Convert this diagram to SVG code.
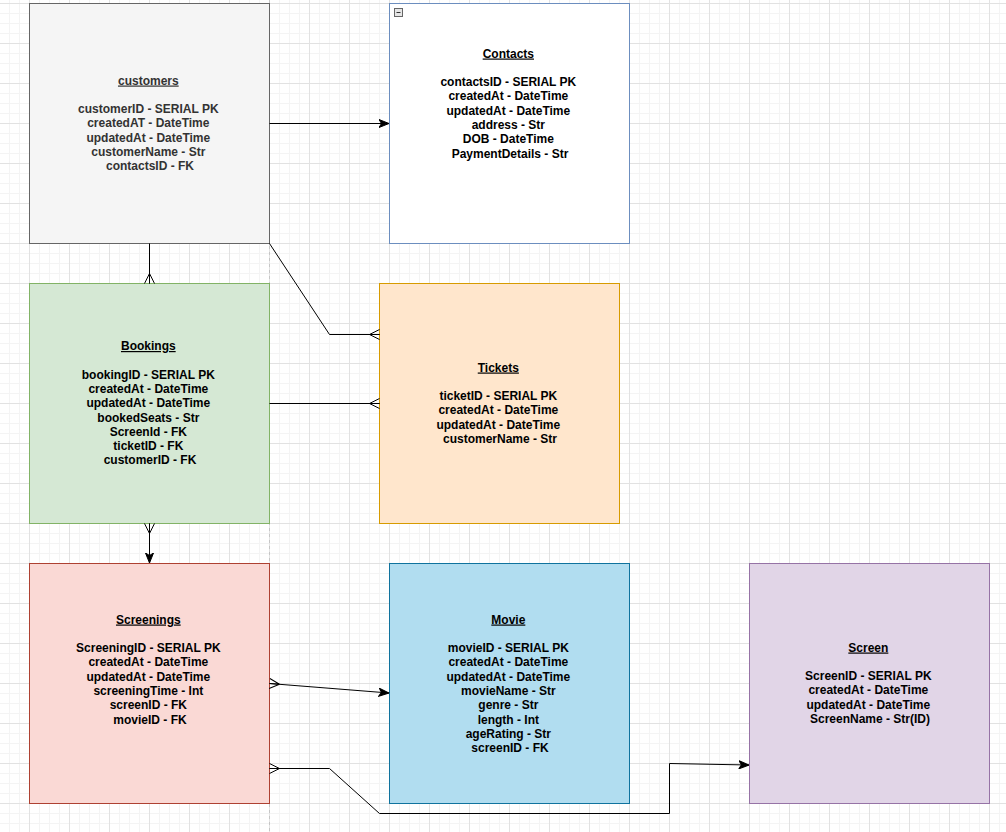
<svg xmlns="http://www.w3.org/2000/svg" width="1006" height="832" viewBox="0 0 1006 832">
  <defs>
    <!-- background grid: 10px minor, 40px major -->
    <pattern id="grid" patternUnits="userSpaceOnUse" x="29" y="3" width="40" height="40">
      <path d="M10.5,0 V40 M20.5,0 V40 M30.5,0 V40 M0,10.5 H40 M0,20.5 H40 M0,30.5 H40" stroke="#f4f4f4" stroke-width="1" fill="none"/>
      <path d="M0.5,0 V40 M0,0.5 H40" stroke="#e2e2e2" stroke-width="1" fill="none"/>
    </pattern>
    <!-- filled classic arrowhead -->
    <marker id="arrow" markerUnits="userSpaceOnUse" markerWidth="11" markerHeight="9" viewBox="0 0 11 9" refX="10.5" refY="4.5" orient="auto">
      <path d="M0.5,0.5 L10.5,4.5 L0.5,8.5 L3,4.5 Z" fill="#000" stroke="#000" stroke-width="1" stroke-linejoin="miter"/>
    </marker>
    <!-- ER "many" crow's foot -->
    <marker id="many" markerUnits="userSpaceOnUse" markerWidth="12" markerHeight="12" viewBox="0 0 12 12" refX="11" refY="6" orient="auto-start-reverse">
      <path d="M1,6 L11,1 M1,6 L11,11 M1,6 L11,6" fill="none" stroke="#000" stroke-width="1"/>
    </marker>
  </defs>
  <style>
    .node text { font-family: "Liberation Sans", Arial, Helvetica, sans-serif; font-size: 12px; font-weight: bold; text-anchor: middle; fill: #000; }
    .node .title { text-decoration: underline; }
    .edge { fill: none; stroke: #000; stroke-width: 1; }
  </style>

  <rect width="1006" height="832" fill="#ffffff"/>
  <rect width="1006" height="832" fill="url(#grid)"/>
  <!-- page break -->
  <line x1="269.5" y1="0" x2="269.5" y2="832" stroke="#c6c6c6" stroke-width="1" stroke-dasharray="3,3"/>

  <g id="customers" class="node">
    <rect x="29.5" y="3.5" width="240" height="240" fill="#f5f5f5" stroke="#666666"/>
    <text x="150" y="84.5" style="fill:#333333">
      <tspan class="title" x="150">customers</tspan>
      <tspan x="150" dy="28.6">customerID - SERIAL PK</tspan>
      <tspan x="150" dy="14.3">createdAT - DateTime</tspan>
      <tspan x="150" dy="14.3">updatedAt - DateTime</tspan>
      <tspan x="150" dy="14.3">customerName - Str</tspan>
      <tspan x="150" dy="14.3">contactsID - FK</tspan>
    </text>
  </g>

  <g id="contacts" class="node">
    <rect x="389.5" y="3.5" width="240" height="240" fill="#ffffff" stroke="#6c8ebf"/>
    <rect x="394.5" y="8.5" width="8" height="8" fill="#e6e6e6" stroke="#666666"/>
    <line x1="396.5" y1="12.5" x2="400.5" y2="12.5" stroke="#333333"/>
    <text x="510" y="57.5">
      <tspan class="title" x="510">Contacts</tspan>
      <tspan x="510" dy="28.6">contactsID - SERIAL PK</tspan>
      <tspan x="510" dy="14.3">createdAt - DateTime</tspan>
      <tspan x="510" dy="14.3">updatedAt - DateTime</tspan>
      <tspan x="510" dy="14.3">address - Str</tspan>
      <tspan x="510" dy="14.3">DOB - DateTime</tspan>
      <tspan x="510" dy="14.3">PaymentDetails - Str</tspan>
    </text>
  </g>

  <g id="bookings" class="node">
    <rect x="29.5" y="283.5" width="240" height="240" fill="#d5e8d4" stroke="#82b366"/>
    <text x="150" y="350">
      <tspan class="title" x="150">Bookings</tspan>
      <tspan x="150" dy="28.6">bookingID - SERIAL PK</tspan>
      <tspan x="150" dy="14.3">createdAt - DateTime</tspan>
      <tspan x="150" dy="14.3">updatedAt - DateTime</tspan>
      <tspan x="150" dy="14.3">bookedSeats - Str</tspan>
      <tspan x="150" dy="14.3">ScreenId - FK</tspan>
      <tspan x="150" dy="14.3">ticketID - FK</tspan>
      <tspan x="150" dy="14.3">customerID - FK</tspan>
    </text>
  </g>

  <g id="tickets" class="node">
    <rect x="379.5" y="283.5" width="240" height="240" fill="#ffe6cc" stroke="#d79b00"/>
    <text x="500" y="371.5">
      <tspan class="title" x="500">Tickets</tspan>
      <tspan x="500" dy="28.6">ticketID - SERIAL PK</tspan>
      <tspan x="500" dy="14.3">createdAt - DateTime</tspan>
      <tspan x="500" dy="14.3">updatedAt - DateTime</tspan>
      <tspan x="500" dy="14.3">customerName - Str</tspan>
    </text>
  </g>

  <g id="screenings" class="node">
    <rect x="29.5" y="563.5" width="240" height="240" fill="#fad9d5" stroke="#ae4132"/>
    <text x="150" y="623.5">
      <tspan class="title" x="150">Screenings</tspan>
      <tspan x="150" dy="28.6">ScreeningID - SERIAL PK</tspan>
      <tspan x="150" dy="14.3">createdAt - DateTime</tspan>
      <tspan x="150" dy="14.3">updatedAt - DateTime</tspan>
      <tspan x="150" dy="14.3">screeningTime - Int</tspan>
      <tspan x="150" dy="14.3">screenID - FK</tspan>
      <tspan x="150" dy="14.3">movieID - FK</tspan>
    </text>
  </g>

  <g id="movie" class="node">
    <rect x="389.5" y="563.5" width="240" height="240" fill="#b1ddf0" stroke="#10739e"/>
    <text x="510" y="623.5">
      <tspan class="title" x="510">Movie</tspan>
      <tspan x="510" dy="28.6">movieID - SERIAL PK</tspan>
      <tspan x="510" dy="14.3">createdAt - DateTime</tspan>
      <tspan x="510" dy="14.3">updatedAt - DateTime</tspan>
      <tspan x="510" dy="14.3">movieName - Str</tspan>
      <tspan x="510" dy="14.3">genre - Str</tspan>
      <tspan x="510" dy="14.3">length - Int</tspan>
      <tspan x="510" dy="14.3">ageRating - Str</tspan>
      <tspan x="510" dy="14.3">screenID - FK</tspan>
    </text>
  </g>

  <g id="screen" class="node">
    <rect x="749.5" y="563.5" width="240" height="240" fill="#e1d5e7" stroke="#9673a6"/>
    <text x="870" y="651.5">
      <tspan class="title" x="870">Screen</tspan>
      <tspan x="870" dy="28.6">ScreenID - SERIAL PK</tspan>
      <tspan x="870" dy="14.3">createdAt - DateTime</tspan>
      <tspan x="870" dy="14.3">updatedAt - DateTime</tspan>
      <tspan x="870" dy="14.3">ScreenName - Str(ID)</tspan>
    </text>
  </g>

  <g id="connectors">
    <path class="edge" d="M269.5,123.5 L389,123.5" marker-end="url(#arrow)"/>
    <path class="edge" d="M149.5,243.5 L149.5,283.5" marker-end="url(#many)"/>
    <path class="edge" d="M269.5,243.5 L329.5,334.5 L379.5,334.5" marker-end="url(#many)"/>
    <path class="edge" d="M269.5,403.5 L379.5,403.5" marker-end="url(#many)"/>
    <path class="edge" d="M149.5,523.5 L149.5,563" marker-start="url(#many)" marker-end="url(#arrow)"/>
    <path class="edge" d="M269.5,683.5 L389,693" marker-start="url(#many)" marker-end="url(#arrow)"/>
    <path class="edge" d="M269.5,768.5 L329.5,768.5 L379.5,813.5 L669.5,813.5 L669.5,763.5 L749,765" marker-start="url(#many)" marker-end="url(#arrow)"/>
  </g>
</svg>
